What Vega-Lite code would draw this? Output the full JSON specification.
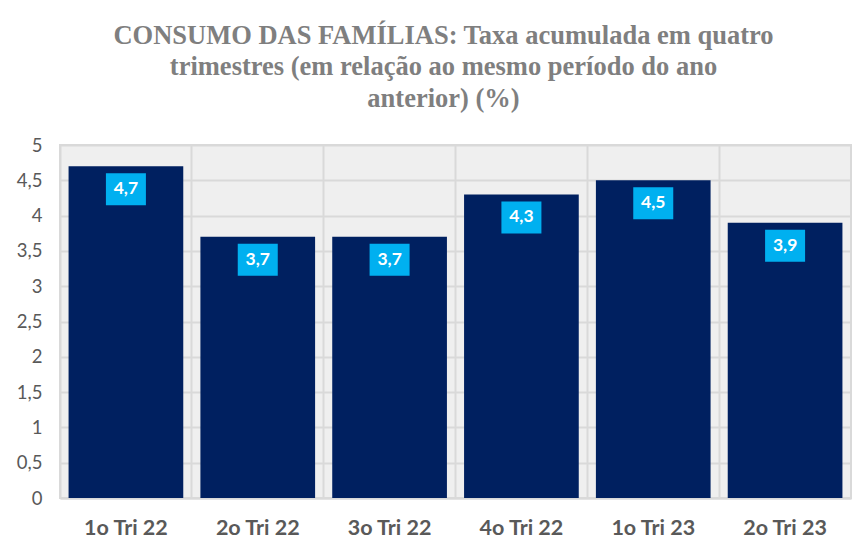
{
  "$schema": "https://vega.github.io/schema/vega-lite/v6.json",
  "width": 791,
  "height": 353,
  "autosize": {"type": "none"},
  "padding": {"left": 60, "top": 145, "right": 8, "bottom": 55},
  "background": "white",
  "config": {
    "locale": {"number": {"decimal": ",", "thousands": ".", "grouping": [3], "currency": ["R$", ""]}},
    "view": {"fill": "#efefef", "stroke": "#d9d9d9", "strokeWidth": 2}
  },
  "title": {
    "text": ["CONSUMO DAS FAMÍLIAS: Taxa acumulada em quatro", "trimestres (em relação ao mesmo período do ano", "anterior) (%)"],
    "anchor": "middle",
    "frame": "group",
    "dx": -12,
    "offset": 24,
    "font": "Liberation Serif",
    "fontWeight": "bold",
    "fontSize": 26.5,
    "lineHeight": 31.5,
    "color": "#7f7f7f"
  },
  "data": {
    "values": [
      {"periodo": "1o Tri 22", "valor": 4.7},
      {"periodo": "2o Tri 22", "valor": 3.7},
      {"periodo": "3o Tri 22", "valor": 3.7},
      {"periodo": "4o Tri 22", "valor": 4.3},
      {"periodo": "1o Tri 23", "valor": 4.5},
      {"periodo": "2o Tri 23", "valor": 3.9}
    ]
  },
  "encoding": {
    "x": {
      "field": "periodo",
      "type": "nominal",
      "sort": null,
      "scale": {"paddingInner": 0, "paddingOuter": 0},
      "axis": {
        "title": null,
        "labelAngle": 0,
        "ticks": false,
        "domain": true,
        "domainColor": "#d9d9d9",
        "domainWidth": 2,
        "grid": true,
        "gridColor": "#d9d9d9",
        "gridWidth": 2,
        "bandPosition": 0,
        "labelFont": "Lato",
        "labelFontWeight": "bold",
        "labelFontSize": 21.5,
        "labelColor": "#595959",
        "labelPadding": 19
      }
    },
    "y": {
      "field": "valor",
      "type": "quantitative",
      "scale": {"domain": [0, 5]},
      "axis": {
        "title": null,
        "values": [0, 0.5, 1, 1.5, 2, 2.5, 3, 3.5, 4, 4.5, 5],
        "format": "~g",
        "domain": false,
        "ticks": false,
        "grid": true,
        "gridColor": "#d9d9d9",
        "gridWidth": 2,
        "labelFont": "Lato",
        "labelFontSize": 18.5,
        "labelColor": "#595959",
        "labelPadding": 18
      }
    }
  },
  "layer": [
    {"mark": {"type": "bar", "color": "#002060", "width": {"band": 0.87}}},
    {"mark": {"type": "point", "shape": "M-1,-0.8H1V0.8H-1Z", "filled": true, "color": "#00b0f0", "size": 1600, "opacity": 1, "strokeWidth": 0, "yOffset": 23}},
    {
      "mark": {"type": "text", "color": "white", "font": "Lato", "fontWeight": "bold", "fontSize": 17.5, "baseline": "middle", "yOffset": 23},
      "encoding": {"text": {"field": "valor", "type": "quantitative", "format": ".1f"}}
    }
  ]
}
